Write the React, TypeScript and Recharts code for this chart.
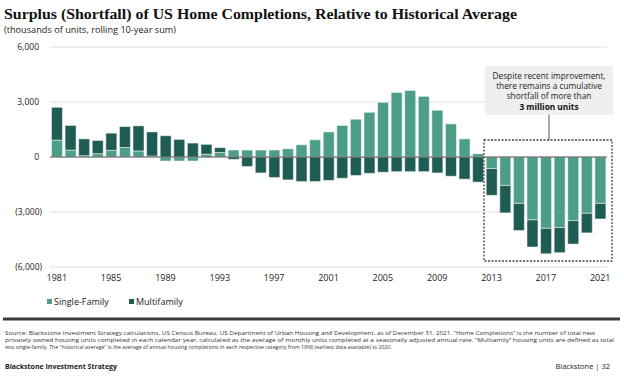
import { BarChart, Bar, XAxis, YAxis, CartesianGrid, ReferenceLine } from "recharts";

const years = [
  "1981", "1982", "1983", "1984", "1985", "1986", "1987", "1988", "1989", "1990",
  "1991", "1992", "1993", "1994", "1995", "1996", "1997", "1998", "1999", "2000",
  "2001", "2002", "2003", "2004", "2005", "2006", "2007", "2008", "2009", "2010",
  "2011", "2012", "2013", "2014", "2015", "2016", "2017", "2018", "2019", "2020",
  "2021",
];

// thousands of units, rolling 10-year sum vs historical average
const singleFamily = [
  920, 380, 70, 180, 360, 520, 330, 50, -220, -220,
  -220, 150, 250, 380, 380, 380, 380, 450, 670, 940,
  1370, 1720, 2060, 2440, 2980, 3520, 3630, 3310, 2550, 1810,
  990, 180, -630, -1550, -2530, -3430, -3890, -3850, -3470, -3070,
  -2530,
];

const multifamily = [
  1790, 1340, 920, 720, 940, 1140, 1370, 1320, 1160, 960,
  760, 540, 260, -130, -520, -870, -1120, -1250, -1340, -1340,
  -1280, -1160, -1010, -890, -830, -800, -800, -800, -870, -1050,
  -1210, -1370, -1460, -1500, -1480, -1480, -1390, -1370, -1280, -1070,
  -850,
];

const yTicks = [-6000, -3000, 0, 3000, 6000];

const LIGHT = "#4d9e88";
const DARK = "#1e5c54";
const SANS = "'Open Sans', 'DejaVu Sans', sans-serif";

const data = years.map((year, i) => ({
  year,
  sf: singleFamily[i],
  mf: multifamily[i],
}));

const noteLines = [
  "Despite recent improvement,",
  "there remains a cumulative",
  "shortfall of more than",
];

const sourceLines = [
  "Source: Blackstone Investment Strategy calculations, US Census Bureau, US Department of Urban Housing and Development, as of December 31, 2021. \u201cHome Completions\u201d is the number of total new",
  "privately owned housing units completed in each calendar year, calculated as the average of monthly units completed at a seasonally adjusted annual rate. \u201cMultiamily\u201d housing units are defined as total",
  "less single-family. The \u201chistorical average\u201d is the average of annual housing completions in each respective category from 1968 (earliest data available) to 2020.",
];
const sourceWidths = [590, 609, 387];

function YTick({ y, payload }: any) {
  const v = payload.value as number;
  const label = v < 0 ? `(${Math.abs(v).toLocaleString("en-US")})` : v.toLocaleString("en-US");
  return (
    <text x={v < 0 ? 42 : 39} y={y} dy={3} textAnchor="end" fontSize={8.5} fill="#222" fontFamily={SANS}>
      {label}
    </text>
  );
}

export default function App() {
  return (
    <div style={{ position: "absolute", left: 0, top: 0, width: 624, height: 376, background: "#fff", overflow: "hidden" }}>
      <BarChart
        width={624}
        height={376}
        data={data}
        stackOffset="sign"
        barCategoryGap="11%"
        margin={{ top: 47, right: 17, bottom: 89, left: 0 }}
      >
        <CartesianGrid vertical={false} stroke="#e0e0e0" />
        <XAxis
          dataKey="year"
          interval={3}
          tickLine={false}
          axisLine={false}
          height={20}
          tickSize={6}
          tickMargin={2}
          tick={{ fontSize: 9, fill: "#1a1a1a", fontFamily: SANS }}
        />
        <YAxis
          width={50}
          domain={[-6000, 6000]}
          ticks={yTicks}
          tickLine={false}
          axisLine={false}
          tick={<YTick />}
        />
        <Bar dataKey="sf" stackId="a" fill={LIGHT} stroke="#ffffff" strokeOpacity={0.5} strokeWidth={1} isAnimationActive={false} />
        <Bar dataKey="mf" stackId="a" fill={DARK} stroke="#ffffff" strokeOpacity={0.5} strokeWidth={1} isAnimationActive={false} />
        <ReferenceLine y={0} stroke="#555" strokeWidth={1.2} />
      </BarChart>

      <svg width={624} height={376} style={{ position: "absolute", left: 0, top: 0, pointerEvents: "none" }}>
        <text x={4} y={19} fontFamily="'Liberation Serif', serif" fontWeight="bold" fontSize={15.5} fill="#111" textLength={513} lengthAdjust="spacingAndGlyphs">
          Surplus (Shortfall) of US Home Completions, Relative to Historical Average
        </text>
        <text x={4} y={33} fontFamily={SANS} fontSize={8.5} fill="#222" textLength={172} lengthAdjust="spacingAndGlyphs">
          (thousands of units, rolling 10-year sum)
        </text>

        {/* annotation */}
        <rect x={485} y={66} width={128} height={49} fill="#efefef" />
        {noteLines.map((t, i) => (
          <text key={t} x={549} y={79 + i * 10} textAnchor="middle" fontFamily={SANS} fontSize={8.3} fill="#222">
            {t}
          </text>
        ))}
        <text x={549} y={109.5} textAnchor="middle" fontFamily={SANS} fontSize={8.3} fontWeight="bold" fill="#111">
          3 million units
        </text>
        <line x1={549} y1={115} x2={549} y2={140} stroke="#555" strokeWidth={1} />
        <rect x={484} y={140} width={128} height={121} fill="none" stroke="#444" strokeWidth={1.3} strokeDasharray="2 1.5" />

        {/* legend */}
        <rect x={47} y={299} width={5} height={5} fill={LIGHT} />
        <text x={54} y={305} fontFamily={SANS} fontSize={9} fill="#222">Single-Family</text>
        <rect x={129} y={299} width={5} height={5} fill={DARK} />
        <text x={136} y={305} fontFamily={SANS} fontSize={9} fill="#222">Multifamily</text>

        <rect x={3} y={317.5} width={617} height={3} fill="#3a3a3a" />

        {sourceLines.map((t, i) => (
          <text key={i} x={5} y={335 + i * 7} fontFamily={SANS} fontSize={6} fill="#333" textLength={sourceWidths[i]} lengthAdjust="spacingAndGlyphs">
            {t}
          </text>
        ))}

        <text x={5} y={369} fontFamily={SANS} fontSize={7.2} fontWeight="bold" fill="#222" textLength={112} lengthAdjust="spacingAndGlyphs">
          Blackstone Investment Strategy
        </text>
        <text x={610} y={369} textAnchor="end" fontFamily={SANS} fontSize={7.5} fill="#222">
          Blackstone  |  32
        </text>
      </svg>
    </div>
  );
}
